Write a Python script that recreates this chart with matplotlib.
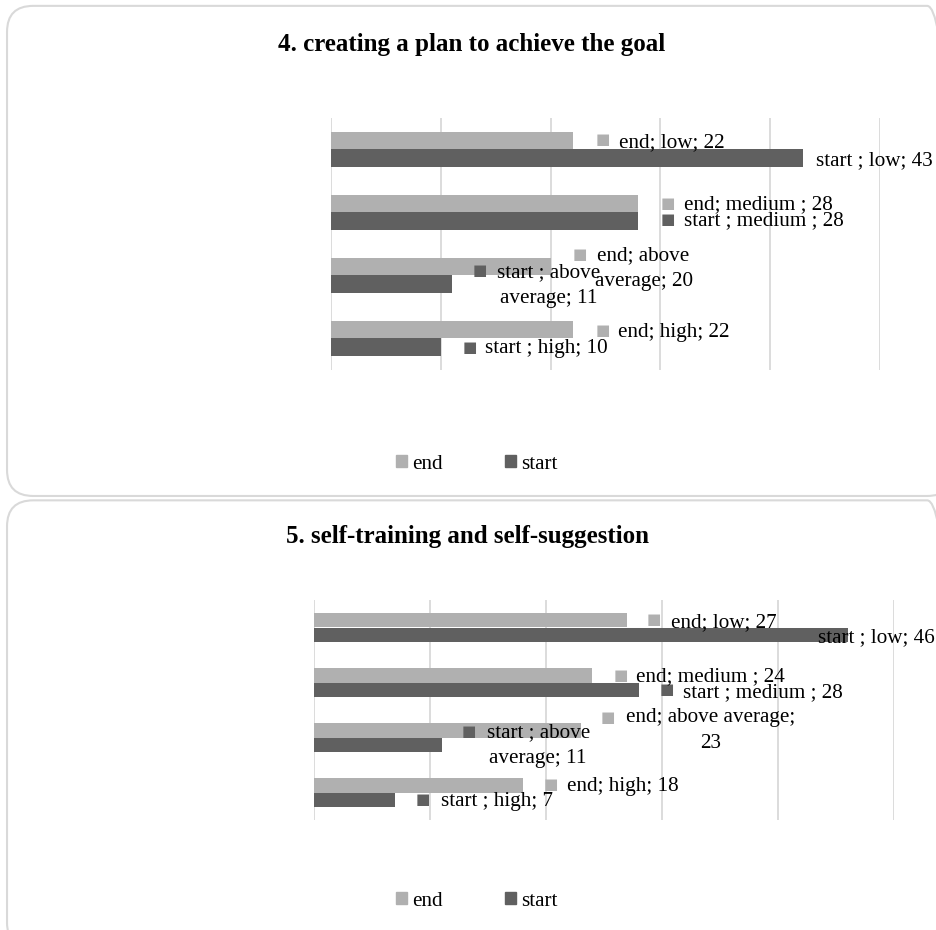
import matplotlib.pyplot as plt
from matplotlib.patches import FancyBboxPatch, Patch

# categories top -> bottom
categories = ["low", "medium ", "above average", "high"]

# chart 4
title_4 = "4. creating a plan to achieve the goal"
end_4 = [22, 28, 20, 22]
start_4 = [43, 28, 11, 10]

# chart 5
title_5 = "5. self-training and self-suggestion"
end_5 = [27, 24, 23, 18]
start_5 = [46, 28, 11, 7]

END_COLOR = "#b0b0b0"
START_COLOR = "#606060"
GRID_COLOR = "#d9d9d9"
SERIF = "Liberation Serif"
FS = 15.2

# label text for each bar (Excel callouts wrap some of them)
labels_4_end = ["end; low; 22", "end; medium ; 28", "end; above\naverage; 20", "end; high; 22"]
labels_4_start = ["start ; low; 43", "start ; medium ; 28", "start ; above\naverage; 11", "start ; high; 10"]
labels_5_end = ["end; low; 27", "end; medium ; 24", "end; above average;\n23", "end; high; 18"]
labels_5_start = ["start ; low; 46", "start ; medium ; 28", "start ; above\naverage; 11", "start ; high; 7"]

# callout offsets in pixels from the bar end:
# (marker dx, marker dy, text dx, text dy, show marker), dy positive = down
offs_4_end = [(30, -1.5, 46, 1.5, True), (29, -0.5, 46, 0.5, True),
              (29, -12.5, 44, 1.5, True), (30, 0.5, 45, 2.5, True)]
offs_4_start = [(7, 0, 13, 3, False), (29, -1.5, 46, -0.5, True),
                (28, -13.5, 45, 1.5, True), (29, 0.5, 44, 1.5, True)]
offs_5_end = [(27, -0.5, 44, 3, True), (28, 0.5, 44, 1.5, True),
              (27, -12.5, 45, 0.5, True), (28, -0.5, 44, 1.5, True)]
offs_5_start = [(-35, 0, -30, 2.5, False), (28, -0.5, 44, 2.5, True),
                (27, -13.5, 45, 0.5, True), (28, -0.5, 46, 1.5, True)]


def draw_panel(fig, rect, title, title_x, title_y, end, start, end_labels, start_labels,
               end_offs, start_offs, legend_y):
    ax = fig.add_axes(rect)
    ax.set_facecolor("none")
    ax.set_zorder(2)
    ypos = list(range(len(categories)))
    h = 0.27
    ax.barh([y - h / 2 for y in ypos], end, height=h, color=END_COLOR, zorder=2)
    ax.barh([y + h / 2 for y in ypos], start, height=h, color=START_COLOR, zorder=2)
    ax.set_xlim(0, 50)
    ax.set_ylim(3.5, -0.5)
    ax.set_xticks(range(0, 51, 10))
    ax.grid(axis="x", color=GRID_COLOR, linewidth=1.3, zorder=0)
    ax.tick_params(left=False, bottom=False, labelleft=False, labelbottom=False)
    for s in ax.spines.values():
        s.set_visible(False)

    for vals, labels, offs, color, sign in [(end, end_labels, end_offs, END_COLOR, -1),
                                            (start, start_labels, start_offs, START_COLOR, 1)]:
        for i, (v, lab, o) in enumerate(zip(vals, labels, offs)):
            mdx, mdy, tdx, tdy, show = o
            yb = i + sign * h / 2
            ax.annotate(lab, (v, yb), xytext=(tdx, -tdy), textcoords="offset pixels",
                        ha="left", va="center", fontsize=FS, family=SERIF,
                        multialignment="center", linespacing=1.5, zorder=4,
                        annotation_clip=False)
            if show:
                ax.annotate("\u25a0", (v, yb), xytext=(mdx, -mdy), textcoords="offset pixels",
                            ha="center", va="center", fontsize=11, color=color,
                            family="DejaVu Sans", zorder=3, annotation_clip=False)

    fig.text(title_x, title_y, title, ha="center", va="center", fontsize=18,
             fontweight="bold", family=SERIF)
    handles = [Patch(color=END_COLOR, label="end"), Patch(color=START_COLOR, label="start")]
    fig.legend(handles=handles, loc="center", bbox_to_anchor=(0.509, legend_y), ncol=2,
               frameon=False, prop={"family": SERIF, "size": FS}, handlelength=0.5,
               handleheight=0.5, handletextpad=0.25, columnspacing=2.95,
               borderpad=0, borderaxespad=0)
    return ax


fig = plt.figure(figsize=(9.37, 9.30), dpi=100)

# rounded panel frames
fig.patches.append(FancyBboxPatch((0.0075, 0.4667), 1.01, 0.527,
                                  boxstyle="round,pad=0,rounding_size=0.028",
                                  transform=fig.transFigure, facecolor="none",
                                  edgecolor=GRID_COLOR, linewidth=1.5, zorder=0))
fig.patches.append(FancyBboxPatch((0.0075, -0.02), 1.01, 0.482,
                                  boxstyle="round,pad=0,rounding_size=0.028",
                                  transform=fig.transFigure, facecolor="none",
                                  edgecolor=GRID_COLOR, linewidth=1.5, zorder=0))

draw_panel(fig, [331 / 937, 1 - 370 / 930, 549 / 937, 252 / 930], title_4, 0.503, 1 - 45 / 930,
           end_4, start_4, labels_4_end, labels_4_start, offs_4_end, offs_4_start,
           1 - 464 / 930)
draw_panel(fig, [314 / 937, 1 - 820 / 930, 580 / 937, 220 / 930], title_5, 0.499, 1 - 537 / 930,
           end_5, start_5, labels_5_end, labels_5_start, offs_5_end, offs_5_start,
           1 - 901 / 930)

fig.savefig("out.png", dpi=100)
